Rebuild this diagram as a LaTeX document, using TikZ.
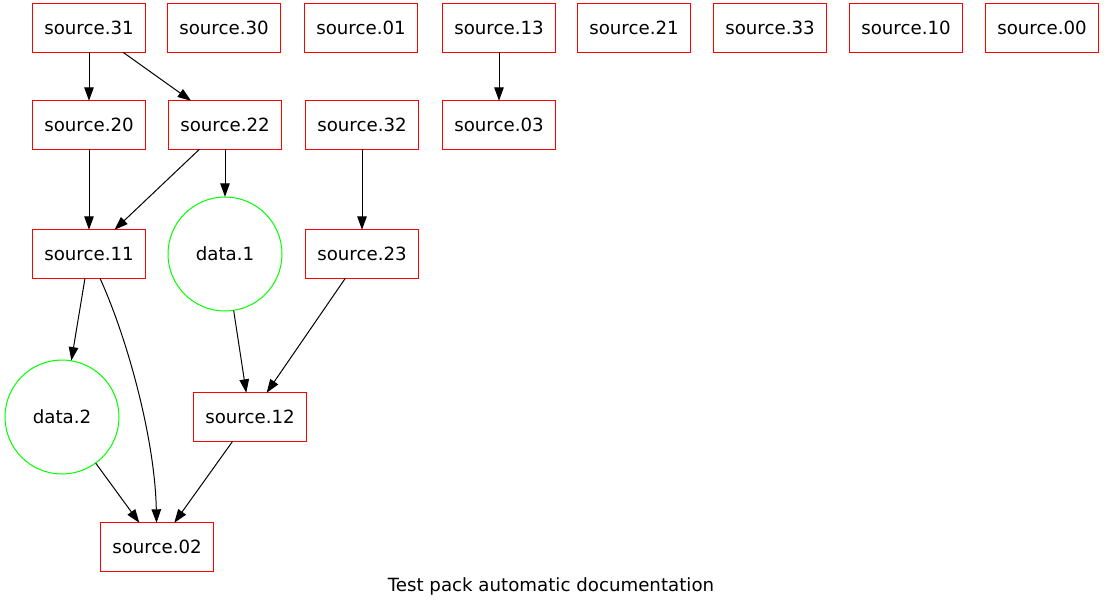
\documentclass[tikz,border=0pt]{standalone}
\usepackage{fontspec}
\setmainfont{DejaVu Sans}
\usetikzlibrary{arrows.meta}
\definecolor{boxred}{RGB}{255,0,0}
\definecolor{circgreen}{RGB}{0,255,0}
\tikzset{
  srcbox/.style={rectangle, minimum width=112pt, minimum height=48pt, inner sep=0pt},
  datacirc/.style={circle, minimum size=114pt, inner sep=0pt},
  redframe/.style={draw=boxred, line width=1pt},
  greenframe/.style={draw=circgreen, line width=1pt},
  edge/.style={draw=black, line width=1pt, -{Triangle[length=13.5pt,width=9.5pt]}}
}
\newcommand{\frameit}[1]{\draw[redframe] (#1.south west) rectangle (#1.north east);}
\begin{document}
\begin{tikzpicture}[x=1pt,y=-1pt,
  every node/.style={font=\fontsize{18.2pt}{21pt}\selectfont}]
\useasboundingbox (0,0) rectangle (1104,611);
% row 1
\node[srcbox] (s31) at (89,28) {source.31};
\node[srcbox] (s30) at (224,28) {source.30};
\node[srcbox] (s01) at (361,28) {source.01};
\node[srcbox] (s13) at (499,28) {source.13};
\node[srcbox] (s21) at (634,28) {source.21};
\node[srcbox] (s33) at (770,28) {source.33};
\node[srcbox] (s10) at (906,28) {source.10};
\node[srcbox] (s00) at (1042,28) {source.00};
% row 2
\node[srcbox] (s20) at (89,125) {source.20};
\node[srcbox] (s22) at (225,125) {source.22};
\node[srcbox] (s32) at (362,125) {source.32};
\node[srcbox] (s03) at (499,125) {source.03};
% row 3
\node[srcbox] (s11) at (89,254) {source.11};
\node[datacirc] (d1) at (225,254) {data.1};
\node[srcbox] (s23) at (362,254) {source.23};
% row 4
\node[datacirc] (d2) at (62,417) {data.2};
\node[srcbox] (s12) at (250,417) {source.12};
% row 5
\node[srcbox] (s02) at (157,547) {source.02};
% caption
\node (cap) at (551,586) {Test pack automatic documentation};
% frames
\foreach \n in {s31,s30,s01,s13,s21,s33,s10,s00,s20,s22,s32,s03,s11,s23,s12,s02} {\frameit{\n}}
\draw[greenframe] (d1.center) circle[radius=57];
\draw[greenframe] (d2.center) circle[radius=57];
% edges
\draw[edge] (s31) -- (s20);
\draw[edge] (s31) -- (s22);
\draw[edge] (s13) -- (s03);
\draw[edge] (s20) -- (s11);
\draw[edge] (s22) -- (s11);
\draw[edge] (s22) -- (d1);
\draw[edge] (s32) -- (s23);
\draw[edge] (s11) -- (d2);
\coordinate (c1) at (128,340);
\coordinate (c2) at (155,440);
\draw[edge] (s11) .. controls (c1) and (c2) .. (s02);
\draw[edge] (d1) -- (s12);
\draw[edge] (s23) -- (s12);
\draw[edge] (d2) -- (s02);
\draw[edge] (s12) -- (s02);
\end{tikzpicture}
\end{document}
